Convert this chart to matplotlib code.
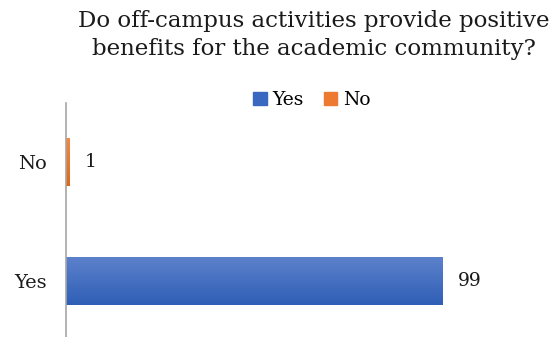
import matplotlib.pyplot as plt
import numpy as np
from matplotlib.colors import LinearSegmentedColormap
from matplotlib.patches import Patch

categories = ["Yes", "No"]
values = [99, 1]
colors_top = ["#5d82cc", "#f28a45"]
colors_bottom = ["#2f5fb6", "#dd6818"]
legend_colors = ["#3a68c0", "#ec7a30"]

plt.rcParams['font.family'] = ['DejaVu Serif']

fig = plt.figure(figsize=(5.53, 3.37), dpi=100)
ax = fig.add_axes([66/553, -3.5/337, 456/553, 238/337])

bars = ax.barh(range(len(categories)), values, height=0.41, color="none")
for bar, ctop, cbot in zip(bars, colors_top, colors_bottom):
    cmap = LinearSegmentedColormap.from_list("g", [cbot, ctop])
    grad = np.linspace(0, 1, 64).reshape(-1, 1)
    x0, y0 = bar.get_x(), bar.get_y()
    w, h = bar.get_width(), bar.get_height()
    im = ax.imshow(grad, cmap=cmap, aspect="auto", origin="lower",
                   extent=(x0, x0 + w, y0, y0 + h), zorder=2)
    im.set_clip_path(bar)

for i, v in enumerate(values):
    ax.text(v + 4, i, str(v), va="center", ha="left", fontsize=13.5, color="#1a1a1a")

ax.set_xlim(0, 120)
ax.set_ylim(-0.5, 1.5)
ax.set_yticks(range(len(categories)))
ax.set_yticklabels(categories, fontsize=14, color="#1a1a1a")
ax.tick_params(axis="y", length=0, pad=14)
ax.set_xticks([])
for s in ["top", "right", "bottom"]:
    ax.spines[s].set_visible(False)
ax.spines["left"].set_color("#a6a6a6")
ax.spines["left"].set_linewidth(1.2)

fig.text(0.568, 0.97, "Do off-campus activities provide positive\nbenefits for the academic community?",
         ha="center", va="top", fontsize=16.5, color="#1a1a1a", linespacing=1.35)

handles = [Patch(color=c) for c in legend_colors]
fig.legend(handles, categories, loc="center", bbox_to_anchor=(312/553, 1 - 100/337),
           ncol=2, frameon=False, fontsize=13.5, handlelength=0.7, handleheight=0.7,
           handletextpad=0.3, columnspacing=1.1)

fig.savefig("out.png", dpi=100)
